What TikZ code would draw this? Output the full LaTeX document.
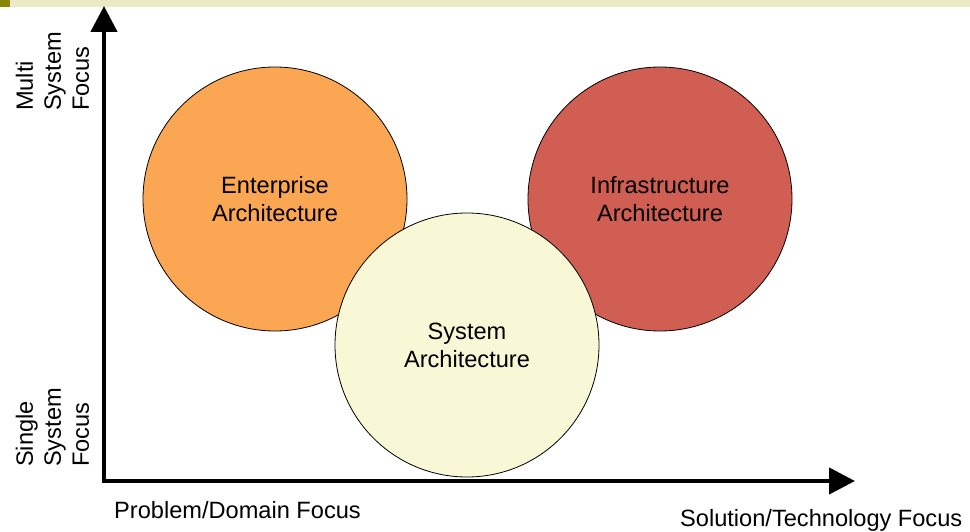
\documentclass[tikz,border=0pt]{standalone}
\usepackage{fontspec}
\setmainfont{Liberation Sans}
\usetikzlibrary{arrows.meta}
\definecolor{barback}{RGB}{236,233,198}
\definecolor{barmark}{RGB}{137,134,4}
\definecolor{entfill}{RGB}{251,166,83}
\definecolor{infrafill}{RGB}{208,94,82}
\definecolor{sysfill}{RGB}{248,248,214}
\begin{document}
\begin{tikzpicture}[x=1pt,y=-1pt,
        archcircle/.style={circle,draw=black,line width=0.8pt,minimum size=264pt,inner sep=0pt,
            align=center,font=\fontsize{23.6}{28}\selectfont},
        axislabel/.style={inner sep=0pt,font=\fontsize{23.6}{28}\selectfont}]
        \useasboundingbox (0,0) rectangle (970,532);
        % Title bar
        \fill[barback] (0,0) rectangle (970,7);
        \fill[barmark] (0,0) rectangle (10,7);
        % Axes
        \coordinate (ytip) at (104,6);
        \coordinate (origin) at (104,481);
        \coordinate (xtip) at (855,481);
        \draw[line width=4.5pt,{Triangle[length=26pt,width=26pt]}-{Triangle[length=26pt,width=26pt]}]
            (ytip) -- (origin) -- (xtip);
        % Circles
        \node[archcircle,fill=entfill] (ent) at (275,199) {Enterprise\\Architecture};
        \node[archcircle,fill=infrafill] (infra) at (660,199) {Infrastructure\\Architecture};
        \node[archcircle,fill=sysfill] (sys) at (467,345) {System\\Architecture};
        % Labels
        \node[axislabel,rotate=90,anchor=west,align=left] (multi) at (52.5,111) {Multi\\System\\Focus};
        \node[axislabel,rotate=90,anchor=west,align=left] (single) at (52.5,467) {Single\\System\\Focus};
        \node[axislabel,anchor=base west] (problem) at (114,518) {Problem/Domain Focus};
        \node[axislabel,anchor=base west] (solution) at (680,526) {Solution/Technology Focus};
    \end{tikzpicture}
\end{document}
